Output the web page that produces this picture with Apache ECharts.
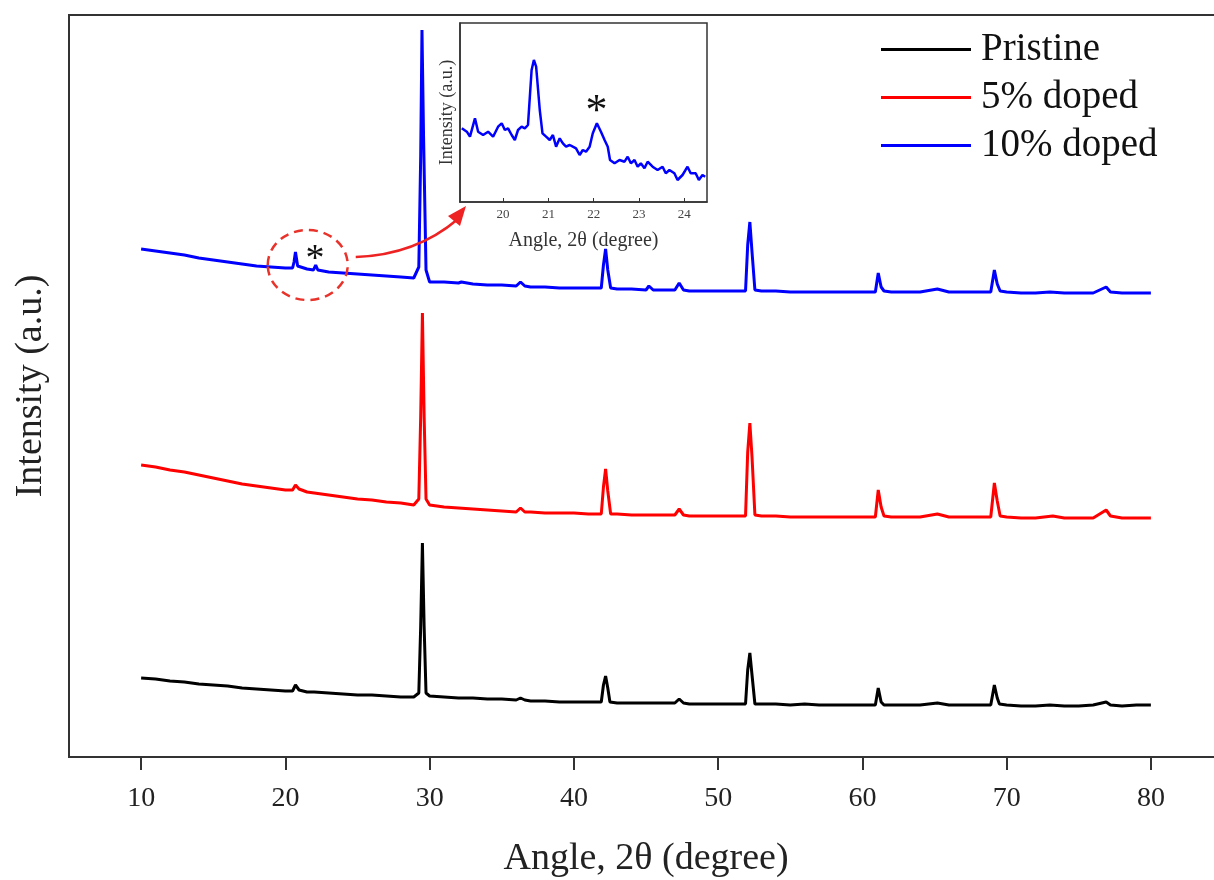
<!DOCTYPE html>
<html><head><meta charset="utf-8">
<script src="https://cdn.jsdelivr.net/npm/echarts@6/dist/echarts.min.js"></script>
<style>html,body{margin:0;padding:0;background:#fff}#c{width:1214px;height:880px}</style>
</head><body><div id="c"></div>
<script>
// ---- data ----
const xTicks = [10, 20, 30, 40, 50, 60, 70, 80];
const insetTicks = [20, 21, 22, 23, 24];
const seriesNames = ['Pristine', '5% doped', '10% doped'];

const pristine = [[10,79],[11,78],[12,76],[13,75],[14,73],[15,72],[16,71],[17,69],[18,68],[19,67],[20,66],[20.5,66],[20.7,72],[20.8,74],[20.95,67],[21.5,65],[22,65],[23,64],[24,63],[25,62],[26,62],[27,61],[28,60],[28.9,60],[29.25,64],[29.38,130],[29.5,214],[29.62,130],[29.75,64],[30,61],[31,60],[32,59],[33,59],[34,58],[35,58],[36,57],[36.3,59],[36.6,57],[37,56],[38,56],[39,55],[40,55],[41,55],[41.9,55],[42.05,72],[42.2,81],[42.35,69],[42.5,55],[43,54],[44,54],[45,54],[46,54],[47,54],[47.3,58],[47.6,54],[48,53],[49,53],[50,53],[51,53],[51.9,53],[52.05,87],[52.2,104],[52.35,82],[52.55,53],[53,53],[54,53],[55,52],[56,53],[57,52],[58,52],[59,52],[60,52],[60.9,52],[61.1,69],[61.3,55],[61.5,52],[62,52],[63,52],[64,52],[65.2,54],[66,52],[67,52],[68,52],[68.9,52],[69.15,72],[69.35,59],[69.5,53],[70,52],[71,51],[72,51],[73,52],[74,51],[75,51],[76,52],[76.9,55],[77.2,52],[78,51],[79,52],[80,52]];

const doped5 = [[10,292],[11,290],[12,287],[13,285],[14,282],[15,279],[16,276],[17,273],[18,271],[19,269],[20,267],[20.5,267],[20.7,272],[20.8,274],[20.95,268],[21.5,265],[22,264],[23,262],[24,260],[25,258],[26,257],[27,255],[28,254],[28.9,252],[29.25,258],[29.38,340],[29.5,444],[29.62,340],[29.75,258],[30,252],[31,250],[32,249],[33,248],[34,247],[35,246],[36,245],[36.3,249],[36.6,245],[37,245],[38,244],[39,244],[40,244],[41,243],[41.9,243],[42.05,270],[42.2,288],[42.35,266],[42.55,243],[43,243],[44,242],[45,242],[46,242],[47,242],[47.3,248],[47.6,242],[48,241],[49,241],[50,241],[51,241],[51.9,241],[52.05,305],[52.2,334],[52.35,300],[52.55,242],[53,241],[54,241],[55,240],[56,240],[57,240],[58,240],[59,240],[60,240],[60.9,240],[61.1,267],[61.3,250],[61.5,241],[62,240],[63,240],[64,240],[65.2,243],[66,240],[67,240],[68,240],[68.9,240],[69.15,274],[69.35,256],[69.55,241],[70,240],[71,239],[72,239],[73.2,241],[74,239],[75,239],[76,239],[76.9,247],[77.2,241],[78,239],[79,239],[80,239]];

const doped10 = [[10,508],[11,506],[12,504],[13,502],[14,499],[15,497],[16,495],[17,493],[18,491],[19,490],[20,489],[20.5,489],[20.6,495],[20.7,505],[20.85,491],[21.5,488],[21.95,487],[22.1,492],[22.25,487],[23,485],[24,484],[25,483],[26,482],[27,481],[28,480],[28.9,479],[29.25,490],[29.38,600],[29.47,727],[29.58,620],[29.75,487],[30,475],[31,475],[32,474],[32.2,475],[33,473],[34,472],[35,472],[36,471],[36.3,475],[36.6,471],[37,470],[38,470],[39,469],[40,469],[41,469],[41.9,469],[42.05,492],[42.2,508],[42.35,487],[42.55,469],[43,468],[44,468],[45,467],[45.2,471],[45.5,467],[46,467],[47,467],[47.3,474],[47.6,467],[48,466],[49,466],[50,466],[51,466],[51.9,466],[52.05,512],[52.2,535],[52.35,505],[52.55,467],[53,466],[54,466],[55,465],[56,465],[57,465],[58,465],[59,465],[60,465],[60.9,465],[61.1,484],[61.3,470],[61.5,466],[62,465],[63,465],[64,465],[65.2,468],[66,465],[67,465],[68,465],[68.9,465],[69.15,487],[69.35,473],[69.55,466],[70,465],[71,464],[72,464],[73,465],[74,464],[75,464],[76,464],[76.9,470],[77.2,465],[78,464],[79,464],[80,464]];

// inset (10% doped, zoom 19-24.5 deg)
const insetAngle = [19.09,19.20,19.27,19.38,19.45,19.56,19.67,19.78,19.89,19.97,20.04,20.11,20.19,20.26,20.33,20.41,20.48,20.55,20.63,20.68,20.73,20.81,20.87,20.95,21.03,21.10,21.17,21.25,21.32,21.39,21.47,21.54,21.61,21.69,21.76,21.83,21.91,21.98,22.07,22.16,22.24,22.31,22.36,22.46,22.57,22.68,22.75,22.82,22.90,22.97,23.04,23.12,23.19,23.30,23.41,23.52,23.59,23.67,23.78,23.85,23.96,24.07,24.14,24.25,24.32,24.40,24.46];
const insetIntensity = [73.7,70.3,65.3,83.7,70.3,67,70.3,65.3,75.3,78.7,72,73.7,67,62,72,75.3,73.7,77,132,142,135.3,92,68.7,65.3,62,67,55.3,63.7,58.7,55.3,57,55.3,53.7,47,52,50.3,55.3,68.7,78.7,70.3,62,55.3,42,38.7,42,40.3,45.3,38.7,42,35.3,38.7,33.7,40.3,35.3,32,35.3,28.7,32,28.7,22,27,35.3,28.7,28.7,22,27,25.3];

// annotation anchors (data coordinates)
const circleAt = [21.55, 492];
const starMainAt = [22.06, 497];
const starInsetAt = [22.06, 90];

const FONT = '"Liberation Serif", "Times New Roman", serif';
const colors = ['#000000', '#ff0000', '#0000ff'];

const chart = echarts.init(document.getElementById('c'), null, {renderer: 'canvas'});
const insetData = insetAngle.map((a, i) => [a, insetIntensity[i]]);

const option = {
  animation: false,
  backgroundColor: '#fff',
  grid: [
    {left: 69, top: 15, width: 1154, bottom: 123, show: true, borderColor: '#333', borderWidth: 2, containLabel: false, outerBoundsMode: 'none'},
    {left: 460, top: 23, width: 247, height: 179, show: true, borderColor: '#333', borderWidth: 1.5, backgroundColor: '#fff', z: 5, containLabel: false, outerBoundsMode: 'none'}
  ],
  legend: {
    orient: 'vertical', left: 881, top: 30, padding: 0,
    itemWidth: 90, itemHeight: 3, itemGap: 9, icon: 'rect',
    textStyle: {fontFamily: FONT, fontSize: 39, color: '#111', lineHeight: 39, padding: [0, 0, 0, 5]},
    data: seriesNames
  },
  xAxis: [
    {
      type: 'value', gridIndex: 0, min: 5, max: 85,
      axisLine: {show: true, lineStyle: {color: '#333', width: 2}},
      axisTick: {show: true, inside: false, length: 13, lineStyle: {color: '#333', width: 2}, customValues: xTicks},
      axisLabel: {customValues: xTicks, fontFamily: FONT, fontSize: 28, color: '#222', margin: 28},
      splitLine: {show: false},
      name: 'Angle, 2θ (degree)', nameLocation: 'middle', nameGap: 83,
      nameTextStyle: {fontFamily: FONT, fontSize: 38, color: '#222'}
    },
    {
      type: 'value', gridIndex: 1, min: 19.05, max: 24.5,
      axisLine: {show: true, lineStyle: {color: '#333', width: 1.5}},
      axisTick: {show: true, inside: true, length: 4, lineStyle: {color: '#333'}, customValues: insetTicks},
      axisLabel: {customValues: insetTicks, fontFamily: FONT, fontSize: 13, color: '#444', margin: 6},
      splitLine: {show: false},
      name: 'Angle, 2θ (degree)', nameLocation: 'middle', nameGap: 29,
      nameTextStyle: {fontFamily: FONT, fontSize: 20, color: '#333'},
      z: 6
    }
  ],
  yAxis: [
    {
      type: 'value', gridIndex: 0, min: 0, max: 742,
      axisLine: {show: true, lineStyle: {color: '#333', width: 2}},
      axisTick: {show: false}, axisLabel: {show: false}, splitLine: {show: false},
      name: 'Intensity (a.u.)', nameLocation: 'middle', nameGap: 19,
      nameTextStyle: {fontFamily: FONT, fontSize: 38, color: '#222'}
    },
    {
      type: 'value', gridIndex: 1, min: 0, max: 179,
      axisLine: {show: true, lineStyle: {color: '#333', width: 1.5}},
      axisTick: {show: false}, axisLabel: {show: false}, splitLine: {show: false},
      name: 'Intensity (a.u.)', nameLocation: 'middle', nameGap: 4,
      nameTextStyle: {fontFamily: FONT, fontSize: 18, color: '#333'},
      z: 6
    }
  ],
  series: [
    {name: seriesNames[0], type: 'line', xAxisIndex: 0, yAxisIndex: 0, data: pristine, symbol: 'none', color: colors[0], lineStyle: {width: 3, color: colors[0]}},
    {name: seriesNames[1], type: 'line', xAxisIndex: 0, yAxisIndex: 0, data: doped5, symbol: 'none', color: colors[1], lineStyle: {width: 3, color: colors[1]}},
    {name: seriesNames[2], type: 'line', xAxisIndex: 0, yAxisIndex: 0, data: doped10, symbol: 'none', color: colors[2], lineStyle: {width: 3, color: colors[2]}},
    {name: 'inset', type: 'line', xAxisIndex: 1, yAxisIndex: 1, data: insetData, symbol: 'none', color: colors[2], lineStyle: {width: 2.5, color: colors[2]}, z: 7}
  ]
};
chart.setOption(option);

// annotations placed from data coordinates
const c = chart.convertToPixel({gridIndex: 0}, circleAt);
const sm = chart.convertToPixel({gridIndex: 0}, starMainAt);
const si = chart.convertToPixel({gridIndex: 1}, starInsetAt);
const corner = chart.convertToPixel({gridIndex: 1}, [19.05, 0]);
const start = [c[0] + 48, c[1] - 8];
const tip = [corner[0] + 6, corner[1] + 4];
chart.setOption({
  graphic: [
    {type: 'ellipse', shape: {cx: c[0], cy: c[1], rx: 40, ry: 35}, style: {fill: 'none', stroke: '#e8322a', lineWidth: 2.5, lineDash: [9, 6]}, z: 10},
    {type: 'text', x: sm[0], y: sm[1], style: {text: '*', font: '38px ' + FONT, fill: '#111', align: 'center', verticalAlign: 'middle'}, z: 10},
    {type: 'text', x: si[0], y: si[1], style: {text: '*', font: '44px ' + FONT, fill: '#111', align: 'center', verticalAlign: 'middle'}, z: 10},
    {type: 'bezierCurve', shape: {x1: start[0], y1: start[1], cpx1: start[0] + 60, cpy1: start[1] - 2, x2: tip[0] - 8, y2: tip[1] + 13}, style: {stroke: '#ee2222', lineWidth: 2.5, fill: 'none'}, z: 10},
    {type: 'polygon', shape: {points: [[tip[0], tip[1]], [tip[0] - 18, tip[1] + 10], [tip[0] - 6, tip[1] + 20]]}, style: {fill: '#ee2222'}, z: 10}
  ]
});
</script>
</body></html>
